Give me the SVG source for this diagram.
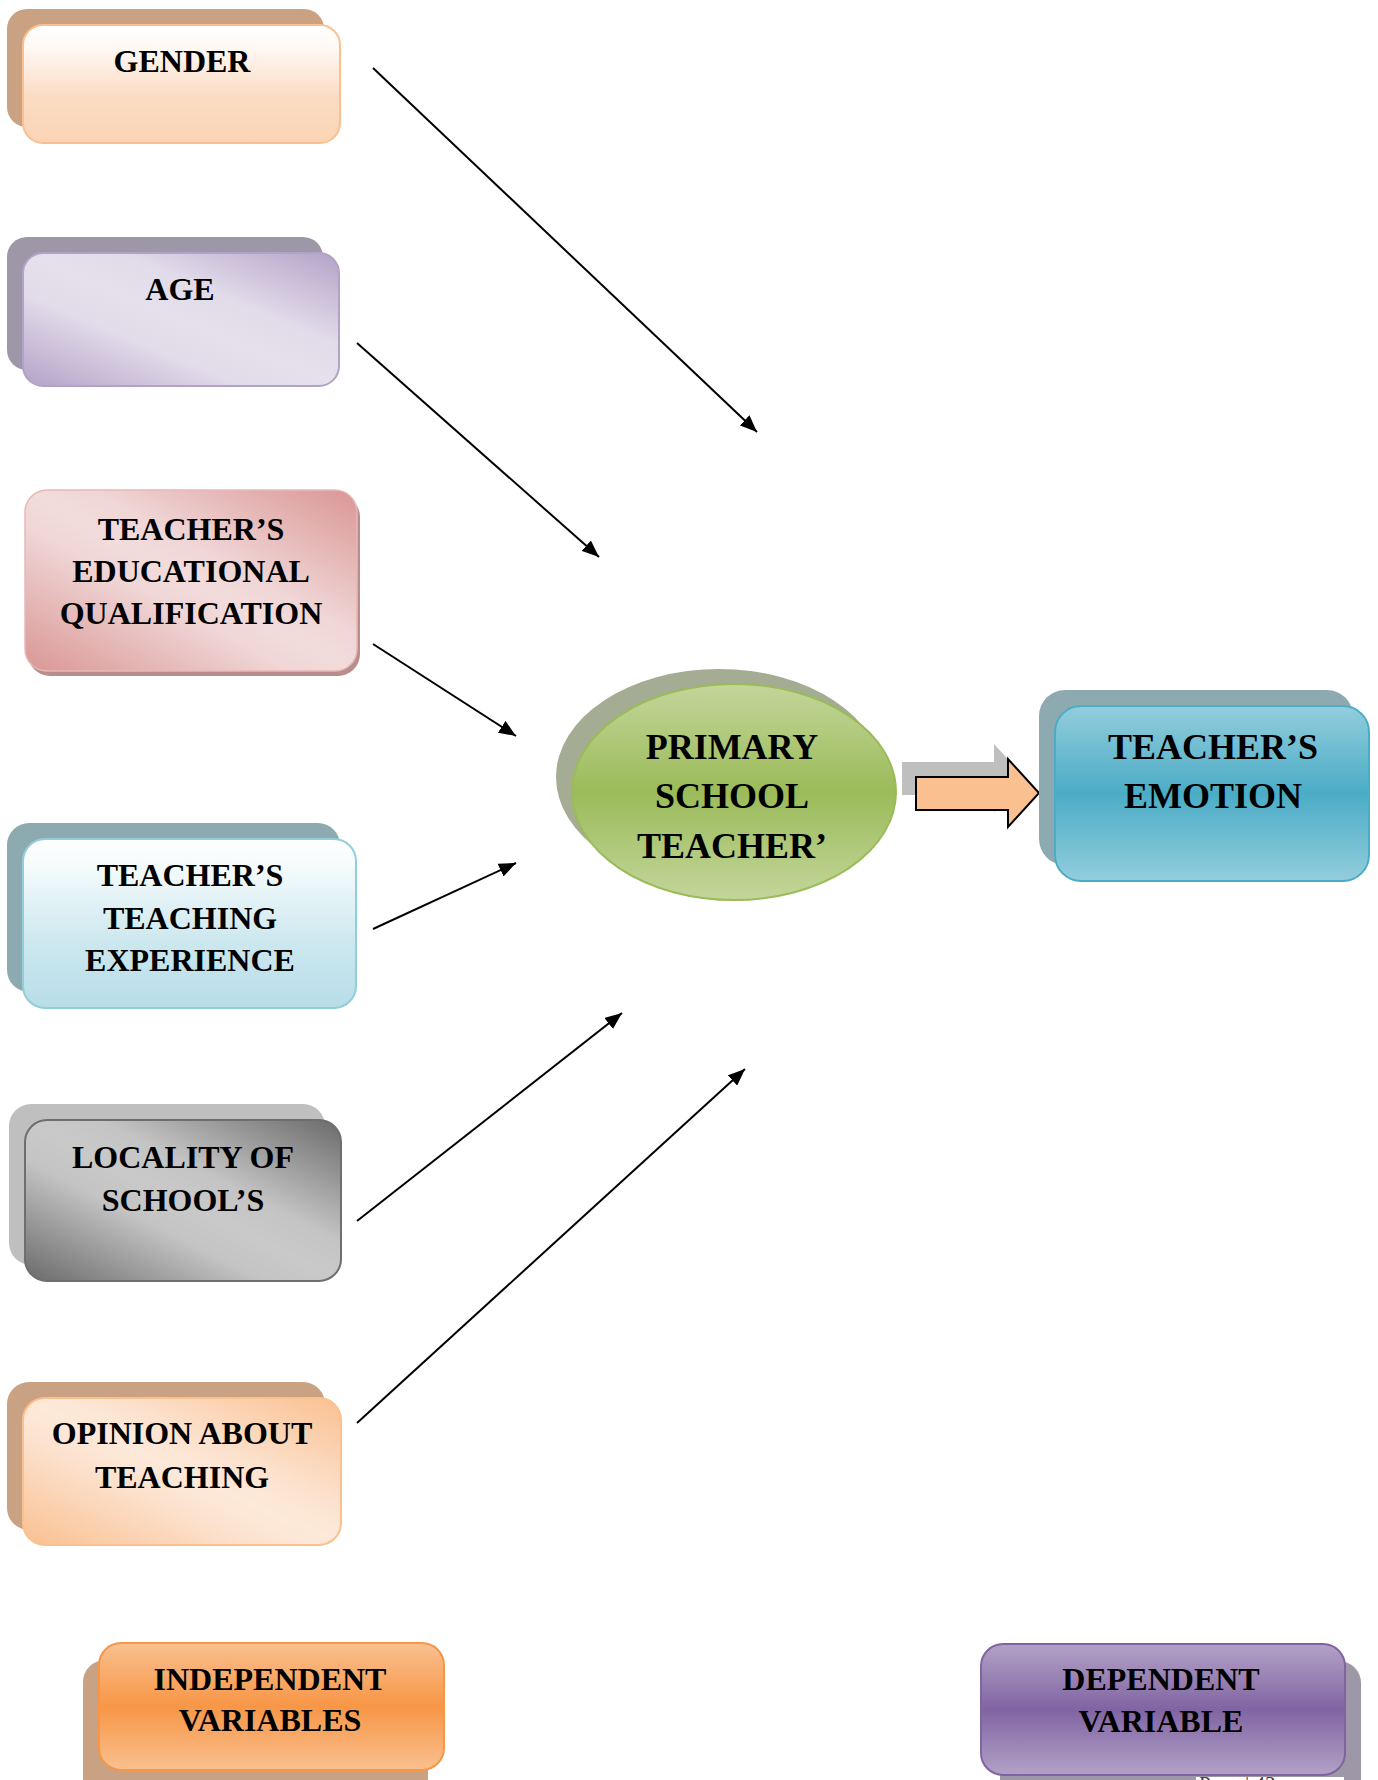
<svg xmlns="http://www.w3.org/2000/svg" width="1378" height="1780" viewBox="0 0 1378 1780">
  <style>
    .lbl { font-family: "Liberation Serif", "Times New Roman", serif; font-weight: bold; font-size: 32px; fill: #000; text-anchor: middle; }
    .big { font-size: 36px; }
    .conn { stroke: #000; stroke-width: 2; fill: none; marker-end: url(#head); }
    .foot { font-family: "Liberation Serif", "Times New Roman", serif; font-size: 21px; fill: #404040; }
  </style>
  <defs>
    <marker id="head" markerUnits="userSpaceOnUse" markerWidth="18" markerHeight="14" refX="17" refY="7" orient="auto">
      <path d="M0,0 L17,7 L0,14 z" fill="#000"/>
    </marker>
    <linearGradient id="gGender" x1="0" y1="0" x2="0" y2="1">
      <stop offset="0" stop-color="#ffffff"/>
      <stop offset="0.2" stop-color="#fff8f3"/>
      <stop offset="0.6" stop-color="#fbdcc4"/>
      <stop offset="1" stop-color="#fad4b4"/>
    </linearGradient>
    <linearGradient id="gAge" x1="1" y1="0" x2="0" y2="1">
      <stop offset="0" stop-color="#b3a2c7"/>
      <stop offset="0.35" stop-color="#e2dcea"/>
      <stop offset="0.5" stop-color="#e5e0ec"/>
      <stop offset="0.65" stop-color="#e2dcea"/>
      <stop offset="1" stop-color="#b3a2c7"/>
    </linearGradient>
    <linearGradient id="gQual" x1="1" y1="0" x2="0" y2="1">
      <stop offset="0" stop-color="#d99694"/>
      <stop offset="0.4" stop-color="#f0d6d6"/>
      <stop offset="0.5" stop-color="#f2dcdb"/>
      <stop offset="0.6" stop-color="#f0d6d6"/>
      <stop offset="1" stop-color="#d99694"/>
    </linearGradient>
    <linearGradient id="gExp" x1="0" y1="0" x2="0" y2="1">
      <stop offset="0" stop-color="#ffffff"/>
      <stop offset="0.15" stop-color="#f6fbfc"/>
      <stop offset="0.6" stop-color="#cde8ef"/>
      <stop offset="1" stop-color="#b7dde8"/>
    </linearGradient>
    <linearGradient id="gLoc" x1="1" y1="0" x2="0" y2="1">
      <stop offset="0" stop-color="#6a6a6a"/>
      <stop offset="0.38" stop-color="#c4c4c4"/>
      <stop offset="0.5" stop-color="#c9c9c9"/>
      <stop offset="0.62" stop-color="#c4c4c4"/>
      <stop offset="1" stop-color="#6a6a6a"/>
    </linearGradient>
    <linearGradient id="gOpin" x1="1" y1="0" x2="0" y2="1">
      <stop offset="0" stop-color="#fac090"/>
      <stop offset="0.38" stop-color="#fce3d0"/>
      <stop offset="0.5" stop-color="#fde9d9"/>
      <stop offset="0.62" stop-color="#fce3d0"/>
      <stop offset="1" stop-color="#fac090"/>
    </linearGradient>
    <linearGradient id="gEmo" x1="0" y1="0" x2="0" y2="1">
      <stop offset="0" stop-color="#93cddd"/>
      <stop offset="0.5" stop-color="#4bacc6"/>
      <stop offset="1" stop-color="#93cddd"/>
    </linearGradient>
    <linearGradient id="gInd" x1="0" y1="0" x2="0" y2="1">
      <stop offset="0" stop-color="#fac090"/>
      <stop offset="0.5" stop-color="#f79646"/>
      <stop offset="1" stop-color="#fac090"/>
    </linearGradient>
    <linearGradient id="gDep" x1="0" y1="0" x2="0" y2="1">
      <stop offset="0" stop-color="#b3a2c7"/>
      <stop offset="0.5" stop-color="#8064a2"/>
      <stop offset="1" stop-color="#b3a2c7"/>
    </linearGradient>
    <linearGradient id="gEll" x1="0" y1="0" x2="0" y2="1">
      <stop offset="0" stop-color="#c3d69b"/>
      <stop offset="0.5" stop-color="#9bbb59"/>
      <stop offset="1" stop-color="#c3d69b"/>
    </linearGradient>
  </defs>

  <rect width="1378" height="1780" fill="#ffffff"/>

  <!-- connectors -->
  <g id="connectors">
    <line class="conn" x1="373" y1="68" x2="757" y2="432"/>
    <line class="conn" x1="357" y1="343" x2="599" y2="557"/>
    <line class="conn" x1="373" y1="644" x2="516" y2="736"/>
    <line class="conn" x1="373" y1="929" x2="516" y2="863"/>
    <line class="conn" x1="357" y1="1221" x2="622" y2="1013"/>
    <line class="conn" x1="357" y1="1423" x2="745" y2="1069"/>
    <!-- block arrow from the centre node to the outcome -->
    <polygon points="902,762 994,762 994,744 1025,778 994,812 994,795 902,795" fill="#bfbfbf"/>
    <polygon points="916,777 1008,777 1008,759 1039,793 1008,827 1008,810 916,810" fill="#fac090" stroke="#000" stroke-width="2" stroke-linejoin="miter"/>
  </g>

  <g id="gender">
    <rect x="7" y="9" width="317" height="118" rx="20" fill="#c9a183"/>
    <rect x="23" y="25" width="317" height="118" rx="20" fill="url(#gGender)" stroke="#fac090" stroke-width="2"/>
    <text class="lbl" x="182" y="72">GENDER</text>
  </g>

  <g id="age">
    <rect x="7" y="237" width="316" height="133" rx="20" fill="#9e97a8"/>
    <rect x="23" y="253" width="316" height="133" rx="20" fill="url(#gAge)" stroke="#b3a2c7" stroke-width="2"/>
    <text class="lbl" x="180" y="300">AGE</text>
  </g>

  <g id="qualification">
    <rect x="28" y="495" width="332" height="181" rx="22" fill="#b98d8b"/>
    <rect x="25" y="490" width="332" height="181" rx="22" fill="url(#gQual)" stroke="#e6b9b8" stroke-width="1.5"/>
    <text class="lbl" x="191" y="540">TEACHER’S</text>
    <text class="lbl" x="191" y="582">EDUCATIONAL</text>
    <text class="lbl" x="191" y="624">QUALIFICATION</text>
  </g>

  <g id="experience">
    <rect x="7" y="823" width="333" height="169" rx="22" fill="#8eaab1"/>
    <rect x="23" y="839" width="333" height="169" rx="22" fill="url(#gExp)" stroke="#92cddc" stroke-width="2"/>
    <text class="lbl" x="190" y="886">TEACHER’S</text>
    <text class="lbl" x="190" y="929">TEACHING</text>
    <text class="lbl" x="190" y="971">EXPERIENCE</text>
  </g>

  <g id="locality">
    <rect x="9" y="1104" width="316" height="161" rx="22" fill="#bfbfbf"/>
    <rect x="25" y="1120" width="316" height="161" rx="22" fill="url(#gLoc)" stroke="#6e6e6e" stroke-width="2"/>
    <text class="lbl" x="183" y="1168">LOCALITY OF</text>
    <text class="lbl" x="183" y="1211">SCHOOL’S</text>
  </g>

  <g id="opinion">
    <rect x="7" y="1382" width="318" height="148" rx="22" fill="#c9a183"/>
    <rect x="23" y="1398" width="318" height="147" rx="22" fill="url(#gOpin)" stroke="#fac090" stroke-width="2"/>
    <text class="lbl" x="182" y="1444">OPINION ABOUT</text>
    <text class="lbl" x="182" y="1488">TEACHING</text>
  </g>

  <g id="primary-school-teacher">
    <ellipse cx="719" cy="777" rx="163" ry="108" fill="#a4ac93"/>
    <ellipse cx="734" cy="792" rx="162" ry="108" fill="url(#gEll)" stroke="#9bbb59" stroke-width="2"/>
    <text class="lbl big" x="732" y="759">PRIMARY</text>
    <text class="lbl big" x="732" y="808">SCHOOL</text>
    <text class="lbl big" x="732" y="858">TEACHER’</text>
  </g>

  <g id="teachers-emotion">
    <rect x="1039" y="690" width="314" height="175" rx="26" fill="#8eaab1"/>
    <rect x="1055" y="706" width="314" height="175" rx="26" fill="url(#gEmo)" stroke="#4bacc6" stroke-width="2"/>
    <text class="lbl big" x="1213" y="759">TEACHER’S</text>
    <text class="lbl big" x="1213" y="808">EMOTION</text>
  </g>

  <g id="independent-variables">
    <rect x="83" y="1660" width="345" height="140" rx="22" fill="#c9a183"/>
    <rect x="99" y="1643" width="345" height="127" rx="22" fill="url(#gInd)" stroke="#f79646" stroke-width="2"/>
    <text class="lbl" x="270" y="1690">INDEPENDENT</text>
    <text class="lbl" x="270" y="1731">VARIABLES</text>
  </g>

  <g id="dependent-variable">
    <rect x="1000" y="1661" width="361" height="140" rx="22" fill="#9e97a8"/>
    <rect x="981" y="1644" width="364" height="131" rx="22" fill="url(#gDep)" stroke="#8064a2" stroke-width="2"/>
    <text class="lbl" x="1161" y="1690">DEPENDENT</text>
    <text class="lbl" x="1161" y="1732">VARIABLE</text>
  </g>

  <!-- page footer -->
  <g id="footer">
    <rect x="1196" y="1777" width="148" height="10" fill="#ffffff"/>
    <text class="foot" x="1199" y="1791">Page | 43</text>
  </g>
</svg>
